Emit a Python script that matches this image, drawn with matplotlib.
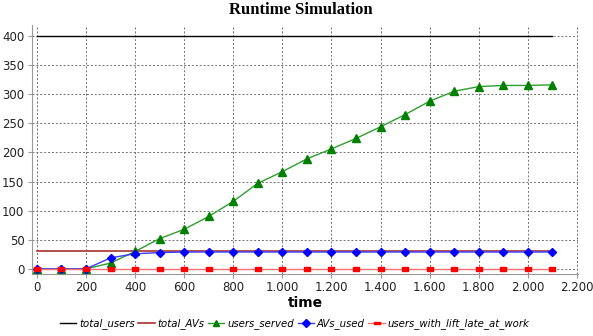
import matplotlib
matplotlib.use("Agg")
import matplotlib.pyplot as plt
from matplotlib.ticker import FuncFormatter, MultipleLocator

time = [0, 100, 200, 300, 400, 500, 600, 700, 800, 900, 1000, 1100,
        1200, 1300, 1400, 1500, 1600, 1700, 1800, 1900, 2000, 2100]
total_users = [400] * len(time)
total_AVs = [30] * len(time)
users_served = [0, 0, 0, 10, 30, 52, 68, 90, 116, 147, 167, 189,
                206, 224, 244, 265, 288, 305, 313, 315, 315, 316]
AVs_used = [0, 0, 0, 19, 26, 28, 29, 29, 29, 29, 29, 29,
            29, 29, 29, 29, 29, 29, 29, 29, 29, 29]
users_late = [0] * len(time)

fig = plt.figure(figsize=(5.93, 3.36), dpi=100)
ax = fig.add_axes([0.054, 0.185, 0.921, 0.741])

rect = [(-1, -0.45), (1, -0.45), (1, 0.45), (-1, 0.45), (-1, -0.45)]

ax.plot(time, total_users, color="#000000", lw=1.0, label="total_users", zorder=3)
ax.plot(time, total_AVs, color="#a83232", lw=1.2, label="total_AVs", zorder=3)
ax.plot(time, users_served, color="#2e9e2e", lw=1.0, marker="^", markersize=5.5,
        markerfacecolor="#008000", markeredgecolor="#008000", label="users_served", zorder=4)
ax.plot(time, AVs_used, color="#3a3aff", lw=1.0, marker="D", markersize=4,
        markerfacecolor="#0000ff", markeredgecolor="#0000ff", label="AVs_used", zorder=4)
ax.plot(time, users_late, color="#ff7070", lw=1.0, marker=rect, markersize=5,
        markerfacecolor="#ff0000", markeredgecolor="#ff0000",
        label="users_with_lift_late_at_work", zorder=4)

ax.set_xlim(-20, 2205)
ax.set_ylim(-8.5, 419)
ax.xaxis.set_major_locator(MultipleLocator(200))
ax.yaxis.set_major_locator(MultipleLocator(50))
ax.xaxis.set_major_formatter(FuncFormatter(lambda v, p: f"{int(v):,}".replace(",", ".")))
ax.grid(True, color="#707070", linestyle=(0, (2, 2)), lw=0.7)
for s in ["top", "right"]:
    ax.spines[s].set_visible(False)
for s in ["left", "bottom"]:
    ax.spines[s].set_color("#999999")
ax.tick_params(colors="#999999", labelcolor="#222222", labelsize=8.5, length=3, pad=2.5)

ax.set_xlabel("time", fontsize=10, fontweight="bold", labelpad=1)
fig.suptitle("Runtime Simulation", x=0.508, y=0.995, fontsize=12,
             fontweight="bold", family="Liberation Serif")

leg = fig.legend(loc="center", bbox_to_anchor=(0.497, 0.037), ncol=5, frameon=False,
                 handlelength=1.6, columnspacing=0.35, handletextpad=0.3,
                 prop={"style": "italic", "size": 7.3}, markerscale=0.9)

fig.savefig("out.png", dpi=100)
